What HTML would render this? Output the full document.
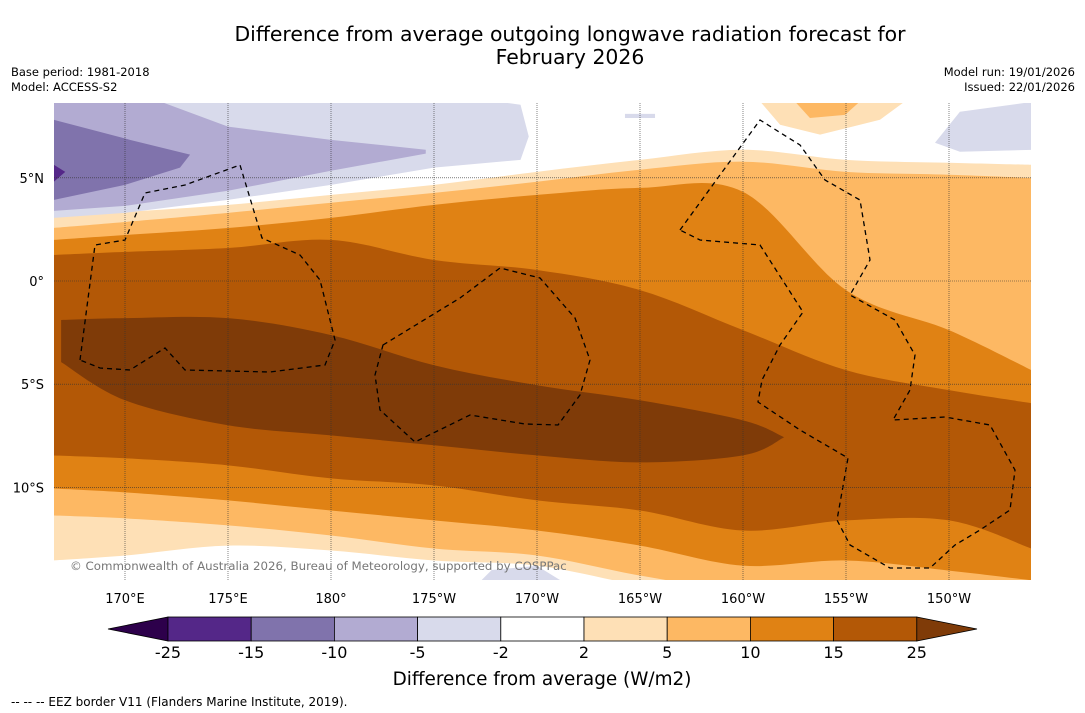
<!DOCTYPE html>
<html><head><meta charset="utf-8">
<style>
body{margin:0;background:#fff;width:1085px;height:713px;overflow:hidden;font-family:"DejaVu Sans","Liberation Sans",sans-serif;}
svg{position:absolute;left:0;top:0;}
</style></head>
<body>
<svg id="chart" width="1085" height="713" viewBox="0 0 1085 713" font-family="DejaVu Sans, Liberation Sans, sans-serif">
<text x="570" y="41" text-anchor="middle" font-size="20.4">Difference from average outgoing longwave radiation forecast for</text>
<text x="570" y="64" text-anchor="middle" font-size="20.4">February 2026</text>
<text x="11" y="76" font-size="11.5">Base period: 1981-2018</text>
<text x="11" y="91" font-size="11.5">Model: ACCESS-S2</text>
<text x="1075" y="76" font-size="11.5" text-anchor="end">Model run: 19/01/2026</text>
<text x="1075" y="91" font-size="11.5" text-anchor="end">Issued: 22/01/2026</text>
<defs><clipPath id="mapclip"><rect x="54" y="103" width="977" height="477"/></clipPath></defs>
<g id="map" clip-path="url(#mapclip)">
<rect x="54" y="103" width="977" height="477" fill="#ffffff"/>
</g>
<g id="axes"></g>
<g id="cbar"></g>
<text x="542" y="685" text-anchor="middle" font-size="18.4">Difference from average (W/m2)</text>
<text x="11" y="706" font-size="12">--  --  -- EEZ border V11 (Flanders Marine Institute, 2019).</text>
</svg>
<script>
// ---- data ----
const bandLons = [166.5,170,175,180,185,190,195,200,205,210,214];
const north2  = [3.2,3.35,3.69,4.17,4.66,5.29,5.87,6.36,5.87,5.73,5.63];
const north5  = [2.57,2.86,3.30,3.79,4.27,4.81,5.39,5.78,5.29,5.15,5.0];
const north10 = [1.99,2.23,2.57,3.06,3.69,4.17,4.51,4.32,-0.44,-2.38,-4.32];
const north15 = [1.26,1.41,1.60,1.99,1.02,0.53,-0.44,-2.38,-4.32,-5.29,-5.92];
const south15 = [-8.45,-8.59,-8.93,-9.56,-9.90,-10.63,-11.12,-12.09,-11.60,-11.60,-12.96];
const south10 = [-10.05,-10.24,-10.63,-11.12,-11.60,-12.09,-12.82,-13.79,-13.54,-14.03,-14.5];
const south5  = [-11.36,-11.5,-11.84,-12.33,-12.96,-13.30,-14.27,-15,-15,-15,-15];
const south2  = [-13.54,-13.3,-12.82,-13.06,-13.54,-13.79,-14.75,-15.5,-15.5,-15.5,-15.5];
const coreLons   = [166.9,170,175,180,185,190,195,200,202];
const coreTop    = [-1.89,-1.80,-1.80,-2.62,-4.08,-5.05,-5.78,-6.75,-7.57];
const coreBottom = [-3.93,-5.78,-6.99,-7.48,-7.96,-8.45,-8.79,-8.45,-7.57];
const purple5  = [[166.55,8.7],[166.55,3.06],[170,3.3],[175,3.93],[180,4.66],[185,5.49],[189.2,5.87],[189.6,7.0],[189.2,8.54],[188,8.7]];
const purple10 = [[166.55,8.7],[166.55,3.4],[170,3.64],[175,4.37],[180,5.34],[184.6,6.17],[184.6,6.36],[180,6.84],[175,7.48],[171.7,8.7]];
const purple15 = [[166.55,7.81],[170.24,6.84],[173.16,6.12],[172.67,5.49],[170,4.66],[166.55,3.93]];
const purple25 = [[166.55,5.63],[167.1,5.29],[166.55,4.81]];
const purpleNE = [[209.32,6.7],[210.53,8.2],[214.2,8.7],[214.2,6.36],[210.53,6.26]];
const purpleSmall = [[194.27,8.1],[195.73,8.1],[195.73,7.9],[194.27,7.9]];
const purpleSouth = [[187.2,-14.6],[187.8,-14.0],[190,-13.8],[191.3,-14.6]];
const orangeTop2 = [[200.83,8.7],[207.86,8.7],[206.65,7.81],[203.74,7.09],[201.8,7.57]];
const orangeTop5 = [[202.52,8.7],[205.68,8.7],[204.95,8.05],[203.25,7.9]];
const lonTicks = [170,175,180,185,190,195,200,205,210];
const lonTickLabels = ["170°E","175°E","180°","175°W","170°W","165°W","160°W","155°W","150°W"];
const latTicks = [5,0,-5,-10];
const latTickLabels = ["5°N","0°","5°S","10°S"];
const cbarLevels = ["-25","-15","-10","-5","-2","2","5","10","15","25"];
const cbarColors = ["#542788","#8073ac","#b2abd2","#d8daeb","#ffffff","#fee0b6","#fdb863","#e08214","#b35806"];
const cbarLow = "#2d004b", cbarHigh = "#7f3b08";

// ---- scales ----
const X = lon => 125 + (lon-170)*20.6;
const Y = lat => 281 - lat*20.64;
const NS = "http://www.w3.org/2000/svg";
function mk(tag, attrs, parent){const e=document.createElementNS(NS,tag);for(const k in attrs)e.setAttribute(k,attrs[k]);parent.appendChild(e);return e;}
function smooth(pts){
  let d="";
  for(let i=0;i<pts.length-1;i++){
    const p0=pts[Math.max(i-1,0)],p1=pts[i],p2=pts[i+1],p3=pts[Math.min(i+2,pts.length-1)];
    const c1=[p1[0]+(p2[0]-p0[0])/6,p1[1]+(p2[1]-p0[1])/6],c2=[p2[0]-(p3[0]-p1[0])/6,p2[1]-(p3[1]-p1[1])/6];
    d+=` C${c1[0]},${c1[1]} ${c2[0]},${c2[1]} ${p2[0]},${p2[1]}`;
  }
  return d;
}
const map=document.getElementById('map');
function band(lons,top,bot,color,name){
  const t=lons.map((l,i)=>[X(l),Y(top[i])]);
  const b=lons.map((l,i)=>[X(l),Y(bot[i])]).reverse();
  const d=`M${t[0][0]},${t[0][1]}`+smooth(t)+` L${b[0][0]},${b[0][1]}`+smooth(b)+"Z";
  const p=mk('path',{d:d,fill:color},map);
  
  
}
function poly(pts,color,name){
  const p=mk('polygon',{points:pts.map(q=>X(q[0])+","+Y(q[1])).join(" "),fill:color},map);
  
  
}
band(bandLons,north2,south2,"#fee0b6","band-2-to-5");
band(bandLons,north5,south5,"#fdb863","band-5-to-10");
band(bandLons,north10,south10,"#e08214","band-10-to-15");
band(bandLons,north15,south15,"#b35806","band-15-to-25");
band(coreLons,coreTop,coreBottom,"#7f3b08","band-above-25");
poly(purple5,"#d8daeb","region-minus5");
poly(purple10,"#b2abd2","region-minus10");
poly(purple15,"#8073ac","region-minus15");
poly(purple25,"#542788","region-minus25");
poly(purpleNE,"#d8daeb","region-minus5-northeast");
poly(purpleSmall,"#d8daeb","region-minus5-small");
poly(purpleSouth,"#d8daeb","region-minus5-south");
poly(orangeTop2,"#fee0b6","region-2-north");
poly(orangeTop5,"#fdb863","region-5-north");

const eez=["M80,360 L95,245 L125,240 L145,193 L185,185 L240,165 L262,238 L300,255 L320,280 L335,340 L325,365 L270,372 L185,370 L165,348 L130,370 L100,368 Z",
"M383,345 L460,298 L500,268 L540,278 L575,318 L590,360 L580,395 L558,425 L525,424 L470,415 L415,442 L380,410 L375,375 Z",
"M680,230 L720,175 L760,120 L800,145 L825,180 L860,200 L870,260 L850,295 L895,320 L915,355 L910,390 L893,420 L945,417 L990,425 L1015,470 L1010,510 L980,530 L955,545 L930,568 L890,568 L850,545 L837,520 L848,458 L800,430 L758,402 L762,380 L780,345 L803,312 L760,245 L700,240 Z"];
eez.forEach((d,i)=>{const p=mk('path',{d:d,fill:"none",stroke:"#000","stroke-width":1.3,"stroke-dasharray":"5,4"},map);

});

lonTicks.forEach(l=>{const g=mk('line',{x1:X(l),x2:X(l),y1:103,y2:580,stroke:"#333","stroke-width":0.6,"stroke-dasharray":"1,1"},map);

});
latTicks.forEach(l=>{const g=mk('line',{x1:54,x2:1031,y1:Y(l),y2:Y(l),stroke:"#333","stroke-width":0.6,"stroke-dasharray":"1,1"},map);

});
const cp=mk('text',{x:70,y:570,"font-size":11.8,fill:"#777"},map);
cp.textContent="© Commonwealth of Australia 2026, Bureau of Meteorology, supported by COSPPac";



const axes=document.getElementById('axes');
lonTicks.forEach((l,i)=>{const t=mk('text',{x:X(l),y:603,"text-anchor":"middle","font-size":13},axes);t.textContent=lonTickLabels[i];

});
latTicks.forEach((l,i)=>{const t=mk('text',{x:44,y:Y(l)+5,"text-anchor":"end","font-size":13},axes);t.textContent=latTickLabels[i];

});

const cb=document.getElementById('cbar');
const cx0=168, cw=83.2, cy=617, ch=24;
const lt=mk('polygon',{points:`108,${cy+ch/2} ${cx0},${cy} ${cx0},${cy+ch}`,fill:cbarLow,stroke:"#000","stroke-width":0.8},cb);


cbarColors.forEach((c,i)=>{const r=mk('rect',{x:cx0+i*cw,y:cy,width:cw,height:ch,fill:c,stroke:"#000","stroke-width":0.8},cb);

});
const xe=cx0+cbarColors.length*cw;
const rt=mk('polygon',{points:`${xe},${cy} 977,${cy+ch/2} ${xe},${cy+ch}`,fill:cbarHigh,stroke:"#000","stroke-width":0.8},cb);


cbarLevels.forEach((v,i)=>{const t=mk('text',{x:cx0+i*cw,y:658,"text-anchor":"middle","font-size":16},cb);t.textContent=v;

});
</script>
</body></html>
